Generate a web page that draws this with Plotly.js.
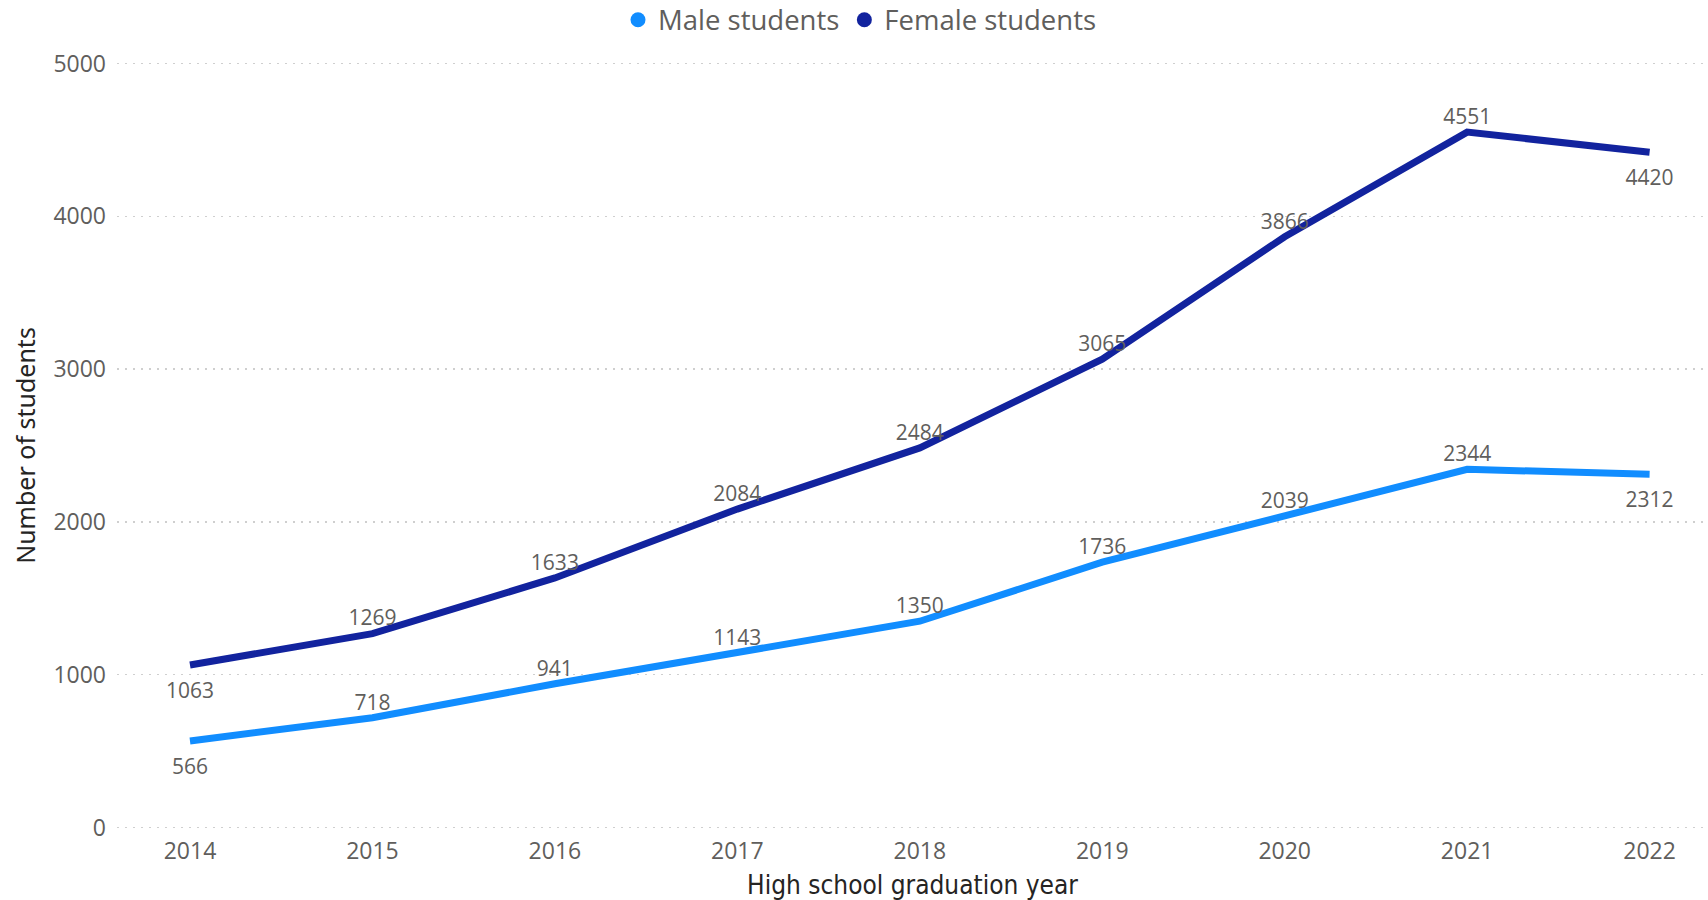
<!DOCTYPE html>
<html><head><meta charset="utf-8">
<script src="https://cdn.plot.ly/plotly-3.0.1.min.js"></script>
<style>html,body{margin:0;padding:0;background:#fff}#chart{width:1708px;height:900px}</style>
</head><body><div id="chart"></div>
<script>
const years = [2014, 2015, 2016, 2017, 2018, 2019, 2020, 2021, 2022];
const maleStudents = [566, 718, 941, 1143, 1350, 1736, 2039, 2344, 2312];
const femaleStudents = [1063, 1269, 1633, 2084, 2484, 3065, 3866, 4551, 4420];
const malePos = ['bottom center','top center','top center','top center','top center','top center','top center','top center','bottom center'];
const femalePos = ['bottom center','top center','top center','top center','top center','top center','top center','top center','bottom center'];
const yTicks = [0, 1000, 2000, 3000, 4000, 5000];

const baseFont = 'Open Sans, Segoe UI, sans-serif';
const labelFont = {family: baseFont, size: 21, color: '#605E5C'};
const maleColor = '#118DFF', femaleColor = '#12239E';
const padFor = pos => pos.map(p => p.startsWith('top') ? 3 : 26);

const traces = [
  {x: years, y: maleStudents, mode: 'lines+markers+text', text: maleStudents.map(String), textposition: malePos,
   textfont: labelFont, line: {color: maleColor, width: 7},
   marker: {size: padFor(malePos), color: maleColor, opacity: 0, line: {width: 0}},
   showlegend: false, cliponaxis: false},
  {x: years, y: femaleStudents, mode: 'lines+markers+text', text: femaleStudents.map(String), textposition: femalePos,
   textfont: labelFont, line: {color: femaleColor, width: 7},
   marker: {size: padFor(femalePos), color: femaleColor, opacity: 0, line: {width: 0}},
   showlegend: false, cliponaxis: false},
  {x: [null], y: [null], mode: 'markers', name: 'Male students', marker: {color: maleColor, size: 15}},
  {x: [null], y: [null], mode: 'markers', name: 'Female students', marker: {color: femaleColor, size: 15}}
];

const layout = {
  width: 1708, height: 900,
  margin: {l: 117, r: 0, t: 62, b: 71, autoexpand: false},
  paper_bgcolor: '#fff', plot_bgcolor: '#fff',
  font: {family: baseFont, color: '#605E5C'},
  showlegend: true,
  legend: {orientation: 'h', x: 0.467, xanchor: 'center', y: 1.055, yanchor: 'middle',
           font: {size: 27.5, color: '#605E5C'}, itemwidth: 30, tracegroupgap: 0},
  xaxis: {
    range: [2013.6, 2022.32], tickvals: years, ticktext: years.map(String),
    showgrid: false, zeroline: false, showline: false, ticks: '', ticklabelstandoff: 6,
    tickfont: {size: 23, color: '#605E5C'},
    title: {text: 'High school graduation year', font: {size: 26, color: '#252423', family: 'DejaVu Sans Condensed, Noto Sans, sans-serif'}, standoff: 10}
  },
  yaxis: {
    range: [-10, 5010], tickvals: yTicks, ticktext: yTicks.map(String),
    showgrid: true, gridcolor: '#CFCFCF', griddash: '2px,6px', gridwidth: 1.5,
    zeroline: false, showline: false, ticks: '', ticklabelstandoff: 10,
    tickfont: {size: 23, color: '#605E5C'},
    title: {text: 'Number of students', font: {size: 25, color: '#252423', family: 'Noto Sans, sans-serif'}, standoff: 10}
  }
};
Plotly.newPlot('chart', traces, layout, {displayModeBar: false, staticPlot: true});
</script></body></html>
